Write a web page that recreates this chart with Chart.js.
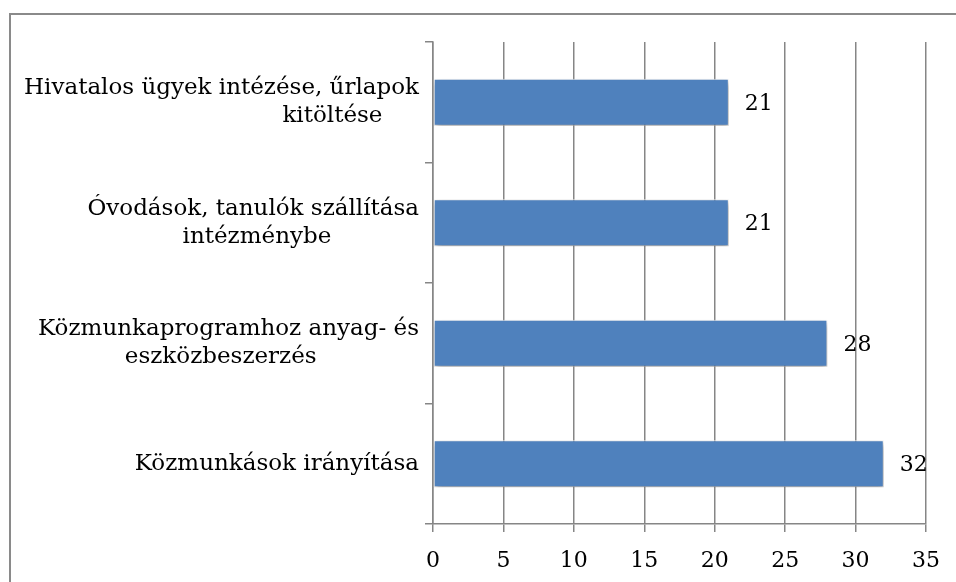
<!DOCTYPE html>
<html>
<head>
<meta charset="utf-8">
<script src="https://cdn.jsdelivr.net/npm/chart.js@4"></script>
<style>
  html, body { margin: 0; padding: 0; background: #fff; overflow: hidden; }
  #keret { position: absolute; left: 9px; top: 13px; width: 1000px; height: 700px; border: 2px solid #8a8a8a; }
  #doboz { position: absolute; left: 0; top: 0; width: 956px; height: 582px; }
</style>
</head>
<body>
<div id="keret"></div>
<div id="doboz"><canvas id="grafikon"></canvas></div>
<script>
// a második sorok végén lévő szóközök az eredeti (középre húzott) tördelést utánozzák
const kategoriak = [
    ['Hivatalos ügyek intézése, űrlapok', 'kitöltése     '],
    ['Óvodások, tanulók szállítása', 'intézménybe            '],
    ['Közmunkaprogramhoz anyag- és', 'eszközbeszerzés              '],
    'Közmunkások irányítása'
];
const ertekek = [21, 21, 28, 32];
const tengelyMax = 35;
const tengelyLepes = 5;

const betu = { family: 'DejaVu Serif', size: 22 };
const cimkeBetu = { family: 'DejaVu Serif', size: 23, lineHeight: 1.22 };
const szurke = '#868686';

// árnyék a sávok alá
const arnyek = {
    id: 'arnyek',
    beforeDatasetsDraw(chart) {
        const ctx = chart.ctx;
        ctx.save();
        ctx.shadowColor = 'rgba(0,0,0,0.4)';
        ctx.shadowBlur = 6;
        ctx.shadowOffsetX = 1;
        ctx.shadowOffsetY = 3;
    },
    afterDatasetsDraw(chart) {
        chart.ctx.restore();
    }
};

// értékcímkék a sávok végén
const cimkek = {
    id: 'cimkek',
    afterDatasetsDraw(chart) {
        const ctx = chart.ctx;
        const meta = chart.getDatasetMeta(0);
        ctx.save();
        ctx.font = betu.size + 'px "' + betu.family + '"';
        ctx.fillStyle = '#000';
        ctx.textAlign = 'left';
        ctx.textBaseline = 'middle';
        meta.data.forEach((bar, i) => {
            ctx.fillText(ertekek[i], bar.x + 16, bar.y + 2);
        });
        ctx.restore();
    }
};

new Chart(document.getElementById('grafikon'), {
    type: 'bar',
    data: {
        labels: kategoriak,
        datasets: [{
            data: ertekek,
            backgroundColor: '#4F81BD',
            borderColor: 'rgba(255,255,255,0.9)',
            borderWidth: 1,
            borderSkipped: false,
            barPercentage: 0.39,
            categoryPercentage: 1
        }]
    },
    options: {
        indexAxis: 'y',
        responsive: true,
        maintainAspectRatio: false,
        animation: false,
        layout: { padding: { top: 42, right: 30, left: 0, bottom: 0 } },
        plugins: {
            legend: { display: false },
            tooltip: { enabled: false }
        },
        scales: {
            x: {
                min: 0,
                max: tengelyMax,
                ticks: { stepSize: tengelyLepes, color: '#000', font: betu, padding: 16 },
                grid: { color: szurke, lineWidth: 1.5, tickLength: 8 },
                border: { color: szurke, width: 1.5 },
                afterFit: s => { s.height = 58; }
            },
            y: {
                ticks: { color: '#000', font: cimkeBetu, padding: 6 },
                grid: { color: szurke, lineWidth: 1.5, tickLength: 8, drawOnChartArea: false },
                border: { color: szurke, width: 1.5 },
                afterFit: s => { s.width = 433; }
            }
        }
    },
    plugins: [arnyek, cimkek]
});
</script>
</body>
</html>
